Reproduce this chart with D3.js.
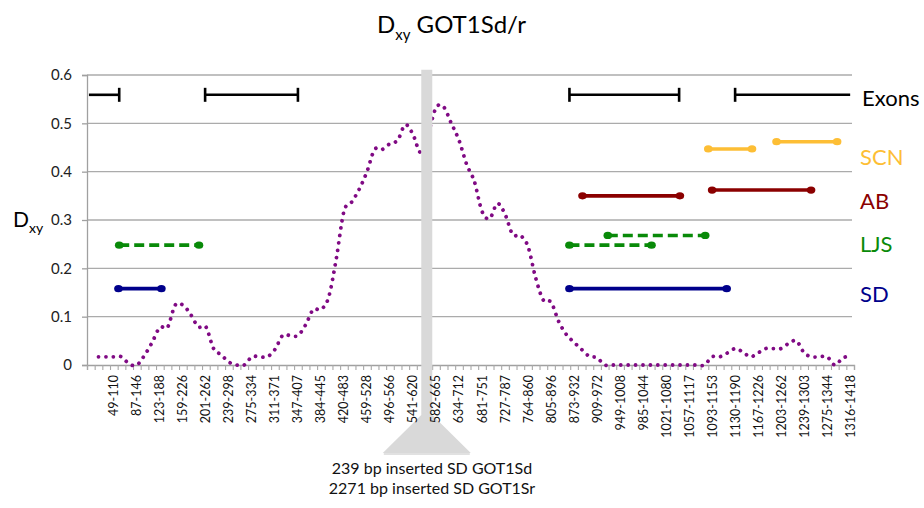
<!DOCTYPE html>
<html>
<head>
<meta charset="utf-8">
<script src="https://cdn.jsdelivr.net/npm/d3@7"></script>
<style>
  body { margin: 0; background: #fff; }
  text { font-family: Lato, "Open Sans", sans-serif; }
</style>
</head>
<body>
<svg></svg>
<script>
// Dxy along GOT1Sd/r, sliding windows on a category axis
const width = 924;
const height = 508;

// one value per window (first category is empty)
const dxyValues = [
  null, 0.017, 0.017, 0.017, 0.017, 0.002, 0.0, 0.02, 0.047, 0.078,
  0.078, 0.124, 0.124, 0.105, 0.079, 0.079, 0.034, 0.021, 0.006, 0.0,
  0.0, 0.017, 0.017, 0.017, 0.032, 0.061, 0.061, 0.061, 0.083, 0.115,
  0.115, 0.14, 0.22, 0.318, 0.337, 0.364, 0.4, 0.446, 0.446, 0.458,
  0.465, 0.497, 0.477, 0.44, 0.48, 0.532, 0.534, 0.5, 0.465, 0.415,
  0.38, 0.318, 0.303, 0.334, 0.312, 0.27, 0.268, 0.245, 0.18, 0.134,
  0.13, 0.09, 0.063, 0.047, 0.032, 0.018, 0.015, 0.0, 0.0, 0.0,
  0.0, 0.0, 0.0, 0.0, 0.0, 0.0, 0.0, 0.0, 0.0, 0.0,
  0.0, 0.017, 0.017, 0.025, 0.034, 0.027, 0.017, 0.025, 0.034, 0.034,
  0.034, 0.045, 0.05, 0.025, 0.017, 0.017, 0.017, 0.0, 0.014, 0.019
];

// window labels, shown on every third category
const windowLabels = [
  "49-110", "87-146", "123-188", "159-226", "201-262", "239-298", "275-334",
  "311-371", "347-407", "384-445", "420-483", "459-528", "496-566", "541-620",
  "582-665", "634-712", "681-751", "727-787", "764-860", "805-896", "873-932",
  "909-972", "949-1008", "985-1044", "1021-1080", "1057-1117", "1093-1153",
  "1130-1190", "1167-1226", "1203-1262", "1239-1303", "1275-1344", "1316-1418"
];
const labelFirst = 3, labelStep = 3;

const yTicks = [0, 0.1, 0.2, 0.3, 0.4, 0.5, 0.6];

// exons: [start, end] in category units, drawn at one level
const exonSpans = [[-0.25, 3.7], [14.9, 27.0], [62.4, 76.7], [84.0, 99.0]];
const exonLevel = 0.559;

// population spans: [start, end, Dxy]
const populations = ["SCN", "AB", "LJS", "SD"];
const popColors = ["#FDBE35", "#8B0000", "#098A09", "#00008B"];
const scnSpans = [[80.5, 86.2, 0.447], [89.4, 97.3, 0.462]];
const abSpans = [[64.1, 76.8, 0.35], [81.0, 93.9, 0.362]];
const ljsSpans = [[3.7, 14.1, 0.248], [62.4, 73.1, 0.248], [67.4, 80.1, 0.268]];
const sdSpans = [[3.6, 9.2, 0.158], [62.4, 82.9, 0.158]];
const popLabelLevels = [0.43, 0.34, 0.25, 0.147];

// insertion marker position (category units)
const insertPos = 43.8;
const insertNotes = ["239 bp inserted SD GOT1Sd", "2271 bp inserted SD GOT1Sr"];

const plotLeft = 87, plotRight = 854, plotTop = 75, plotBottom = 365;

const svg = d3.select("svg")
    .attr("width", width)
    .attr("height", height);

const x = d3.scaleLinear()
    .domain([-0.5, dxyValues.length - 0.5])
    .range([plotLeft, plotRight]);

const y = d3.scaleLinear()
    .domain([0, 0.6])
    .range([plotBottom, plotTop]);

// gridlines
svg.append("g")
  .selectAll("line")
  .data(yTicks.filter(d => d > 0))
  .join("line")
  .attr("x1", plotLeft).attr("x2", plotRight - 2)
  .attr("y1", d => y(d)).attr("y2", d => y(d))
  .attr("stroke", "#ababab")
  .attr("stroke-width", 1.3);

// y axis
const yAxis = svg.append("g")
  .attr("transform", `translate(${plotLeft},0)`)
  .call(d3.axisLeft(y).tickValues(yTicks).tickSize(5).tickPadding(10)
    .tickFormat(d => d === 0 ? "0" : d3.format(".1f")(d)));
yAxis.select(".domain").attr("stroke", "#a0a0a0").attr("stroke-width", 1.3);
yAxis.selectAll(".tick line").attr("stroke", "#a0a0a0").attr("stroke-width", 1.3);
yAxis.selectAll("text").attr("font-size", 15).attr("fill", "#222")
  .style("font-family", "Lato, sans-serif");

// x axis: a tick between every category
const catBounds = d3.range(dxyValues.length + 1).map(i => i - 0.5);
const xAxis = svg.append("g")
  .attr("transform", `translate(0,${plotBottom})`)
  .call(d3.axisBottom(x).tickValues(catBounds).tickSize(5).tickFormat(""));
xAxis.select(".domain").attr("stroke", "#a0a0a0").attr("stroke-width", 1.3);
xAxis.selectAll(".tick line").attr("stroke", "#a8a8a8").attr("stroke-width", 1.1);

// dxy line, smoothed and dotted
const line = d3.line()
  .defined(d => d != null)
  .x((d, i) => x(i))
  .y(d => y(d))
  .curve(d3.curveCardinal.tension(0));

svg.append("path")
  .datum(dxyValues)
  .attr("d", line)
  .attr("fill", "none")
  .attr("stroke", "#800a84")
  .attr("stroke-width", 3.8)
  .attr("stroke-linecap", "round")
  .attr("stroke-dasharray", "0.01 7.4");

// insertion bar + triangle
const insX = x(insertPos);
svg.append("path")
  .attr("d", `M${insX - 5.5},${y(0.611)} L${insX + 5.5},${y(0.611)} L${insX + 5.5},${plotBottom + 50}`
    + ` L${insX + 44},${plotBottom + 88} L${insX - 44},${plotBottom + 88} L${insX - 5.5},${plotBottom + 50} Z`)
  .attr("fill", "#d9d9d9");
svg.append("line")
  .attr("x1", insX - 43).attr("x2", insX + 43)
  .attr("y1", plotBottom + 89).attr("y2", plotBottom + 89)
  .attr("stroke", "#c4c4c4").attr("stroke-width", 1.2);

// category labels
svg.append("g")
  .selectAll("text")
  .data(windowLabels)
  .join("text")
  .attr("transform", (d, k) => `translate(${x(labelFirst + k * labelStep) + 4.5},${plotBottom + 10}) rotate(-90)`)
  .attr("text-anchor", "end")
  .attr("font-size", 12.5)
  .attr("fill", "#111")
  .text(d => d);

// exons
const exG = svg.append("g");
exonSpans.forEach(([s, e]) => {
  exG.append("line")
    .attr("x1", x(s)).attr("x2", x(e))
    .attr("y1", y(exonLevel)).attr("y2", y(exonLevel))
    .attr("stroke", "#000").attr("stroke-width", 2.6);
  [s, e].forEach(p => {
    if (p <= 0 || p >= dxyValues.length - 1) return;
    exG.append("line")
      .attr("x1", x(p)).attr("x2", x(p))
      .attr("y1", y(exonLevel) - 7).attr("y2", y(exonLevel) + 7)
      .attr("stroke", "#000").attr("stroke-width", 2.6);
  });
});
svg.append("text")
  .attr("x", 862).attr("y", y(exonLevel) + 11)
  .attr("font-size", 22)
  .text("Exons");

// population spans
const allSpans = [scnSpans, abSpans, ljsSpans, sdSpans];
allSpans.forEach((spans, p) => {
  const g = svg.append("g");
  spans.forEach(([s, e, v]) => {
    g.append("line")
      .attr("x1", x(s)).attr("x2", x(e))
      .attr("y1", y(v)).attr("y2", y(v))
      .attr("stroke", popColors[p])
      .attr("stroke-width", 3.6)
      .attr("stroke-dasharray", populations[p] === "LJS" ? "10 5" : null);
    g.selectAll(null)
      .data([s, e])
      .join("ellipse")
      .attr("cx", d => x(d)).attr("cy", y(v))
      .attr("rx", 4.3).attr("ry", 3.6)
      .attr("fill", popColors[p]);
  });
  svg.append("text")
    .attr("x", 860).attr("y", y(popLabelLevels[p]) + 8)
    .attr("font-size", 22)
    .attr("fill", popColors[p])
    .text(populations[p]);
});

// title
const title = svg.append("text").attr("x", 377).attr("y", 33).attr("font-size", 24);
title.append("tspan").text("D");
title.append("tspan").attr("font-size", 15).attr("dy", 7).text("xy");
title.append("tspan").attr("dy", -7).text(" GOT1Sd/r");

// y label
const yl = svg.append("text").attr("x", 13).attr("y", 227).attr("font-size", 21);
yl.append("tspan").text("D");
yl.append("tspan").attr("font-size", 14).attr("dy", 6).text("xy");

// insertion notes
svg.append("g")
  .selectAll("text")
  .data(insertNotes)
  .join("text")
  .attr("x", 432)
  .attr("y", (d, i) => 474 + i * 19.5)
  .attr("text-anchor", "middle")
  .attr("font-size", 16)
  .attr("fill", "#111")
  .text(d => d);
</script>
</body>
</html>
